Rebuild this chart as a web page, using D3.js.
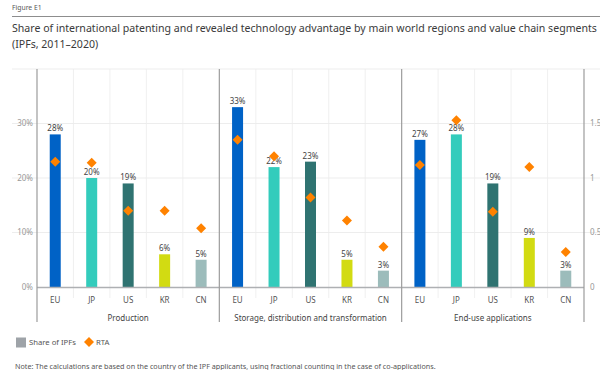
<!DOCTYPE html>
<html><head><meta charset="utf-8">
<script src="https://cdn.jsdelivr.net/npm/d3@7"></script>
<style>
html,body{margin:0;padding:0;background:#fff;}
svg{display:block;font-family:"Noto Sans",sans-serif;}
</style></head>
<body>
<svg id="chart" width="600" height="370"></svg>
<script>
const groups = ["Production", "Storage, distribution and transformation", "End-use applications"];
const regions = ["EU", "JP", "US", "KR", "CN"];
const shareProduction = [28, 20, 19, 6, 5];
const shareStorage = [33, 22, 23, 5, 3];
const shareEndUse = [27, 28, 19, 9, 3];
const rtaProduction = [1.15, 1.14, 0.70, 0.70, 0.54];
const rtaStorage = [1.35, 1.20, 0.82, 0.61, 0.37];
const rtaEndUse = [1.12, 1.53, 0.69, 1.10, 0.32];
const leftTicks = [0, 10, 20, 30];
const rightTicks = [0, 0.5, 1, 1.5];
const regionColors = ["#0062c6", "#33ccbc", "#2f7371", "#d2db12", "#9cbcbb"];

const shares = [shareProduction, shareStorage, shareEndUse];
const rtas = [rtaProduction, rtaStorage, rtaEndUse];

const svg = d3.select("#chart");
const x0 = 37, x1 = 584, yTop = 69, yBase = 287;

const y = d3.scaleLinear().domain([0, 40]).range([yBase, yTop]);
const yR = d3.scaleLinear().domain([0, 2]).range([yBase, yTop]);
const xg = d3.scaleBand().domain(groups).range([x0, x1]).paddingInner(0).paddingOuter(0);
const xc = d3.scaleBand().domain(regions).range([0, xg.bandwidth()]).padding(0);
const barW = 11;

// header
svg.append("text").attr("x", 12).attr("y", 10).attr("font-size", 6.8).attr("fill", "#555").text("Figure E1");
svg.append("line").attr("x1", 12).attr("x2", 600).attr("y1", 16.5).attr("y2", 16.5).attr("stroke", "#8d8d8d").attr("stroke-width", 1);
const t1 = svg.append("text").attr("x", 12).attr("y", 32).attr("font-size", 11.5).attr("fill", "#3a3a3a")
  .text("Share of international patenting and revealed technology advantage by main world regions and value chain segments");
const t2 = svg.append("text").attr("x", 12).attr("y", 48).attr("font-size", 11.5).attr("fill", "#3a3a3a")
  .text("(IPFs, 2011\u20132020)");
const w1 = t1.node().getComputedTextLength();
const fs = 11.5 * 586 / w1;
t1.attr("font-size", fs); t2.attr("font-size", fs);

// horizontal grid
const gridG = svg.append("g");
[10, 20, 30, 40].forEach(v => {
  gridG.append("line").attr("x1", 12).attr("x2", 600).attr("y1", y(v)).attr("y2", y(v))
    .attr("stroke", "#e8e8e8").attr("stroke-width", 0.8);
});
// vertical category gridlines
groups.forEach(g => {
  regions.slice(1).forEach(r => {
    const xx = xg(g) + xc(r);
    gridG.append("line").attr("x1", xx).attr("x2", xx).attr("y1", yTop).attr("y2", 298)
      .attr("stroke", "#ececec").attr("stroke-width", 0.8);
  });
});

// left ticks
leftTicks.forEach(v => {
  svg.append("text").attr("x", 33).attr("y", y(v)).attr("dy", "0.35em").attr("text-anchor", "end")
    .attr("font-size", 8).attr("fill", "#999").text(v + "%");
});
// right ticks
rightTicks.forEach(v => {
  svg.append("text").attr("x", 590).attr("y", yR(v)).attr("dy", "0.35em").attr("text-anchor", "start")
    .attr("font-size", 8).attr("fill", "#999").text(d3.format("~g")(v));
});

// bars
groups.forEach((g, gi) => {
  const gG = svg.append("g");
  regions.forEach((r, ri) => {
    const cx = xg(g) + xc(r) + xc.bandwidth() / 2;
    const v = shares[gi][ri];
    gG.append("rect").attr("x", cx - barW / 2).attr("y", y(v)).attr("width", barW).attr("height", yBase - y(v))
      .attr("fill", regionColors[ri]);
    gG.append("text").attr("x", cx).attr("y", y(v) - 3).attr("text-anchor", "middle")
      .attr("font-size", 8).attr("fill", "#444").text(v + "%");
  });
});

// baseline
svg.append("line").attr("x1", x0).attr("x2", x1).attr("y1", yBase + 0.5).attr("y2", yBase + 0.5).attr("stroke", "#aeb0b3").attr("stroke-width", 1.6);

// separators
const seps = [x0, xg(groups[1]), xg(groups[2]), x1];
seps.forEach(s => {
  svg.append("line").attr("x1", s).attr("x2", s).attr("y1", yTop).attr("y2", 322)
    .attr("stroke", "#9c9c9c").attr("stroke-width", 1.2);
});

// diamonds
const diamond = d3.symbol().type(d3.symbolSquare).size(50);
groups.forEach((g, gi) => {
  regions.forEach((r, ri) => {
    const cx = xg(g) + xc(r) + xc.bandwidth() / 2;
    svg.append("path").attr("d", diamond()).attr("fill", "#ff8200")
      .attr("transform", `translate(${cx},${yR(rtas[gi][ri])}) rotate(45)`);
  });
});

// category labels
groups.forEach(g => {
  regions.forEach(r => {
    const cx = xg(g) + xc(r) + xc.bandwidth() / 2;
    svg.append("text").attr("x", cx).attr("y", 300).attr("dy", "0.35em").attr("text-anchor", "middle")
      .attr("font-size", 8).attr("fill", "#555").text(r);
  });
  svg.append("text").attr("x", xg(g) + xg.bandwidth() / 2).attr("y", 318).attr("dy", "0.35em").attr("text-anchor", "middle")
    .attr("font-size", 8).attr("fill", "#444").text(g);
});

// legend
svg.append("rect").attr("x", 16).attr("y", 337.5).attr("width", 10).attr("height", 10).attr("fill", "#9ea3a8");
svg.append("text").attr("x", 29).attr("y", 342.5).attr("dy", "0.35em").attr("font-size", 7.7).attr("fill", "#555").text("Share of IPFs");
svg.append("path").attr("d", diamond()).attr("fill", "#ff8200").attr("transform", "translate(89,342) rotate(45)");
svg.append("text").attr("x", 96).attr("y", 342.5).attr("dy", "0.35em").attr("font-size", 7.7).attr("fill", "#555").text("RTA");

// note
svg.append("text").attr("x", 15).attr("y", 366).attr("dy", "0.35em").attr("font-size", 7.2).attr("fill", "#555")
  .text("Note: The calculations are based on the country of the IPF applicants, using fractional counting in the case of co-applications.");
</script>
</body></html>
